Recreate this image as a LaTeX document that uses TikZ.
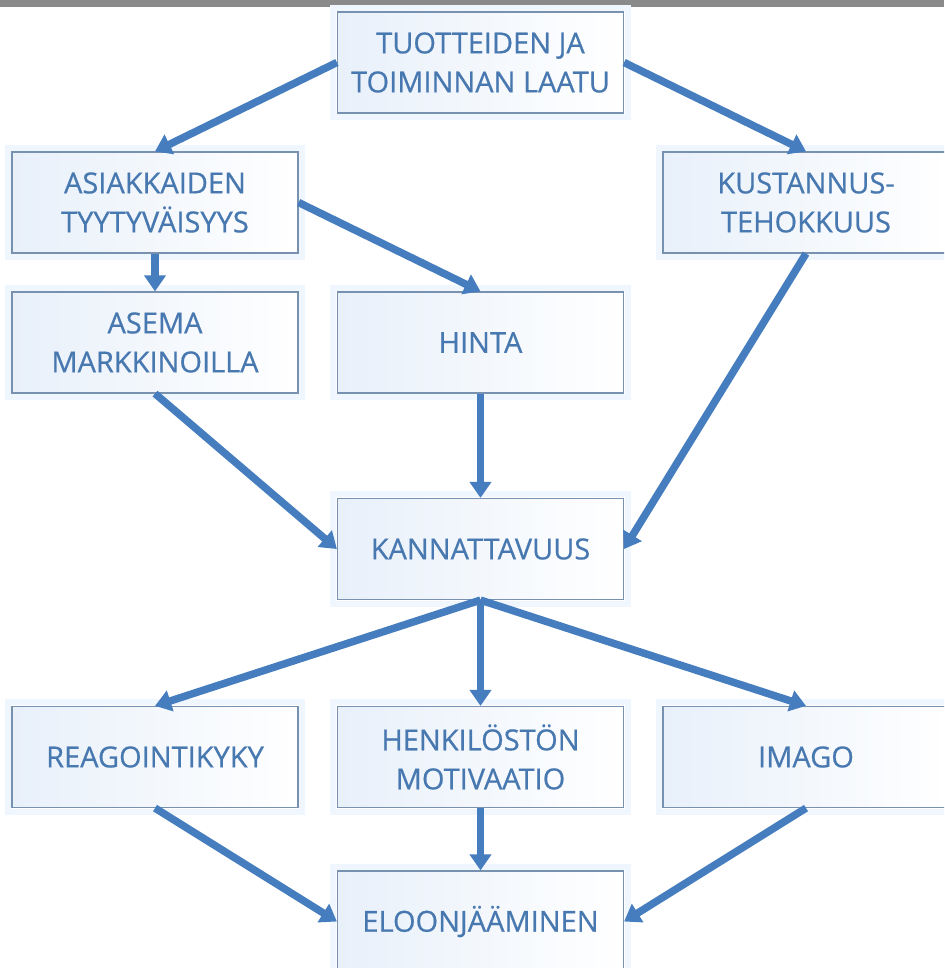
\documentclass[tikz,border=0pt]{standalone}
\usepackage{fontspec}
\setmainfont{Open Sans}
\newfontfamily\boxfont{Open Sans}[FakeBold=0.6]
\usetikzlibrary{arrows.meta}
\definecolor{barGray}{RGB}{138,138,138}
\definecolor{flowBlue}{RGB}{70,125,190}
\definecolor{txtBlue}{RGB}{72,120,176}
\definecolor{boxEdge}{RGB}{120,145,175}
\definecolor{boxTint}{RGB}{232,240,250}
\definecolor{haloBlue}{RGB}{240,246,253}
\tikzset{
  box/.style={draw=boxEdge, line width=1.2pt, minimum width=286pt, minimum height=101pt,
    inner sep=0pt, align=center, text=txtBlue, left color=boxTint, right color=white,
    font=\boxfont\fontsize{29}{39}\selectfont},
  halo/.style={draw=haloBlue, line width=6pt},
  flow/.style={draw=flowBlue, line width=7.5pt,
    -{Triangle[length=16pt,width=21pt]}}
}
\begin{document}
\begin{tikzpicture}[x=1pt,y=-1pt]
  \useasboundingbox (0,0) rectangle (944,968);
  \clip (0,0) rectangle (944,968);
  \fill[white] (0,0) rectangle (944,968);
  \fill[barGray] (0,0) rectangle (944,7);

  % boxes
  \node[box] (laatu)  at (480.5,62.5) {TUOTTEIDEN JA\\TOIMINNAN LAATU};
  \node[box] (asiak)  at (155,202.5)  {ASIAKKAIDEN\\TYYTYVÄISYYS};
  \node[box] (kust)   at (806,202.5)  {KUSTANNUS-\\TEHOKKUUS};
  \node[box] (asema)  at (155,342.5)  {ASEMA\\MARKKINOILLA};
  \node[box] (hinta)  at (480.5,342.5) {HINTA};
  \node[box] (kann)   at (480.5,549)  {KANNATTAVUUS};
  \node[box] (reago)  at (155,757)    {REAGOINTIKYKY};
  \node[box] (henk)   at (480.5,757)  {HENKILÖSTÖN\\MOTIVAATIO};
  \node[box] (imago)  at (806,757)    {IMAGO};
  \node[box] (eloon)  at (480.5,921.5) {ELOONJÄÄMINEN};

  % soft halo just outside each box edge
  \foreach \n in {laatu,asiak,kust,asema,hinta,kann,reago,henk,imago,eloon}{
    \draw[halo] ([shift={(-3.6pt,3.6pt)}]\n.north west) rectangle ([shift={(3.6pt,-3.6pt)}]\n.south east);
  }

  % connectors
  \draw[flow] (laatu.west) -- (asiak.north);
  \draw[flow] (laatu.east) -- (kust.north);
  \draw[flow] (asiak.south) -- (asema.north);
  \draw[flow] (asiak.east) -- (hinta.north);
  \draw[flow] (kust.south) -- (kann.east);
  \draw[flow] (asema.south) -- (kann.west);
  \draw[flow] (hinta.south) -- (kann.north);
  \draw[flow] (kann.south) -- (reago.north);
  \draw[flow] (kann.south) -- (henk.north);
  \draw[flow] (kann.south) -- (imago.north);
  \draw[flow] (reago.south) -- (eloon.west);
  \draw[flow] (henk.south) -- (eloon.north);
  \draw[flow] (imago.south) -- (eloon.east);
\end{tikzpicture}
\end{document}
